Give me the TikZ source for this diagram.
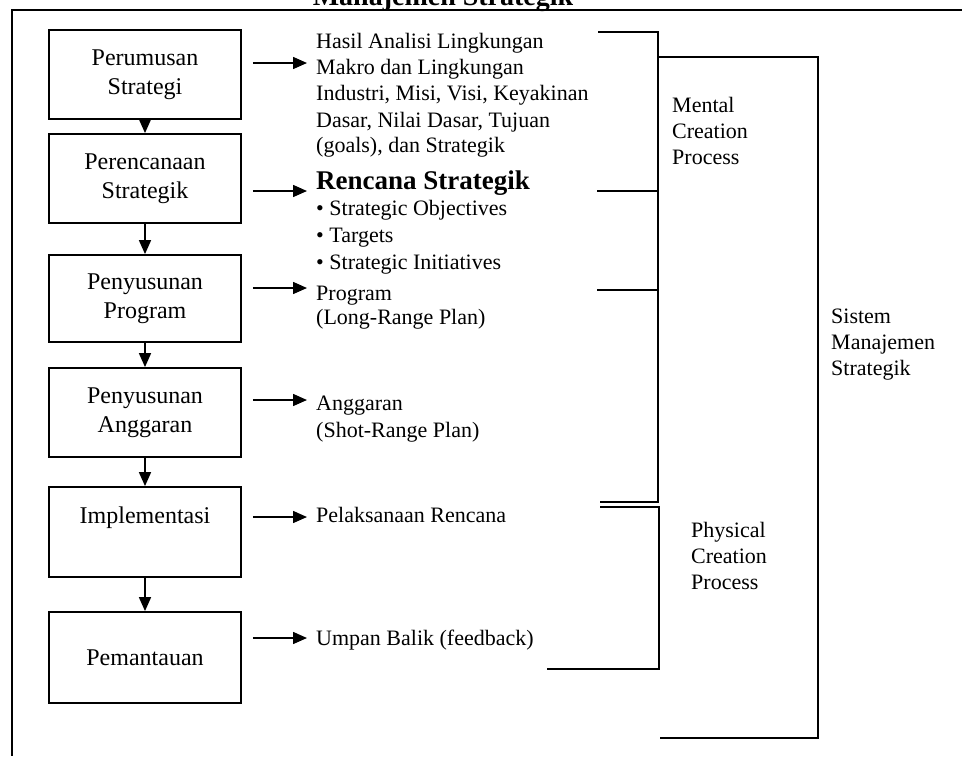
\documentclass[tikz,border=0pt]{standalone}
\usepackage{fontspec}
\setmainfont{Liberation Serif}
\usetikzlibrary{arrows.meta}
\begin{document}
\begin{tikzpicture}[x=1pt,y=-1pt,
  stepbox/.style={draw, line width=1.8pt, minimum width=192pt, minimum height=89pt,
    inner sep=0pt, align=center, font=\fontsize{24}{29}\selectfont},
  boxlabel/.style={inner sep=0pt, font=\fontsize{24}{29}\selectfont},
  outtext/.style={anchor=base west, inner sep=0pt, font=\fontsize{22}{26}\selectfont},
  headtext/.style={anchor=base west, inner sep=0pt, font=\bfseries\fontsize{27}{30}\selectfont},
  flow/.style={line width=1.6pt, -{Triangle[length=14pt,width=12pt]}},
  feed/.style={line width=1.5pt, -{Triangle[length=14pt,width=12pt]}, shorten <=11pt},
  bracket/.style={line width=1.6pt},
  tick/.style={line width=1.2pt},
  sidelabel/.style={anchor=north west, inner sep=0pt, align=left, font=\fontsize{22}{26}\selectfont}]

\useasboundingbox (0,0) rectangle (962,756);
\clip (0,0) rectangle (962,756);
\fill[white] (0,0) rectangle (962,756);

% heading, partly cut by the top edge
\node[anchor=base, inner sep=0pt, font=\bfseries\fontsize{28}{32}\selectfont] (title) at (443,5) {Manajemen Strategik};

% outer frame
\draw[line width=1.8pt] (962,10) -- (12,10) -- (12,756);

% process steps
\node[stepbox] (b1) at (145,74.5) {Perumusan\\Strategi};
\node[stepbox] (b2) at (145,178.5) {Perencanaan\\Strategik};
\node[stepbox, minimum height=87pt] (b3) at (145,298.5) {Penyusunan\\Program};
\node[stepbox] (b4) at (145,412.5) {Penyusunan\\Anggaran};
\node[stepbox, minimum height=90pt] (b5) at (145,532) {};
\node[boxlabel] (b5t) at (145,518) {Implementasi};
\node[stepbox, minimum height=91pt] (b6) at (145,657.5) {Pemantauan};

\draw[flow] (b1) -- (b2);
\draw[flow] (b2) -- (b3);
\draw[flow] (b3) -- (b4);
\draw[flow] (b4) -- (b5);
\draw[flow] (b5) -- (b6);

% outputs of each step
\node[outtext] (h1) at (316,48) {Hasil Analisi Lingkungan};
\node[outtext] (h2) at (316,74) {Makro dan Lingkungan};
\node[outtext] (h3) at (316,100) {Industri, Misi, Visi, Keyakinan};
\node[outtext] (h4) at (316,127) {Dasar, Nilai Dasar, Tujuan};
\node[outtext] (h5) at (316,152) {(goals), dan Strategik};

\node[headtext] (r0) at (316,189) {Rencana Strategik};
\node[outtext] (r1) at (316,215.5) {\textbullet\ Strategic Objectives};
\node[outtext] (r2) at (316,242) {\textbullet\ Targets};
\node[outtext] (r3) at (316,269) {\textbullet\ Strategic Initiatives};

\node[outtext] (p1) at (316,300.5) {Program};
\node[outtext] (p2) at (316,324) {(Long-Range Plan)};

\node[outtext] (g1) at (316,410.5) {Anggaran};
\node[outtext] (g2) at (316,437) {(Shot-Range Plan)};

\node[outtext] (i1) at (316,522) {Pelaksanaan Rencana};
\node[outtext] (u1) at (316,645) {Umpan Balik (feedback)};

% arrow ends
\coordinate (a1) at (307,63);
\coordinate (a2) at (307,191);
\coordinate (a3) at (307,288);
\coordinate (a4) at (307,400);
\coordinate (a5) at (307,517);
\coordinate (a6) at (307,638);

\draw[feed] (b1.east |- a1) -- (a1);
\draw[feed] (b2.east |- a2) -- (a2);
\draw[feed] (b3.east |- a3) -- (a3);
\draw[feed] (b4.east |- a4) -- (a4);
\draw[feed] (b5.east |- a5) -- (a5);
\draw[feed] (b6.east |- a6) -- (a6);

% mental creation bracket
\draw[bracket] (598,32) -- (658,32) -- (658,502) -- (600,502);
\draw[tick] (597,191) -- (658,191);
\draw[tick] (597,290) -- (658,290);
% physical creation bracket
\draw[bracket] (600,507) -- (659,507) -- (659,669) -- (547,669);
% whole-system bracket
\draw[bracket] (658,57) -- (818,57) -- (818,738) -- (660,738);

\node[sidelabel] (mcp) at (672,97) {Mental\\Creation\\Process};
\node[sidelabel] (pcp) at (691,522) {Physical\\Creation\\Process};
\node[sidelabel] (sms) at (831,309) {Sistem\\Manajemen\\Strategik};
\end{tikzpicture}
\end{document}
